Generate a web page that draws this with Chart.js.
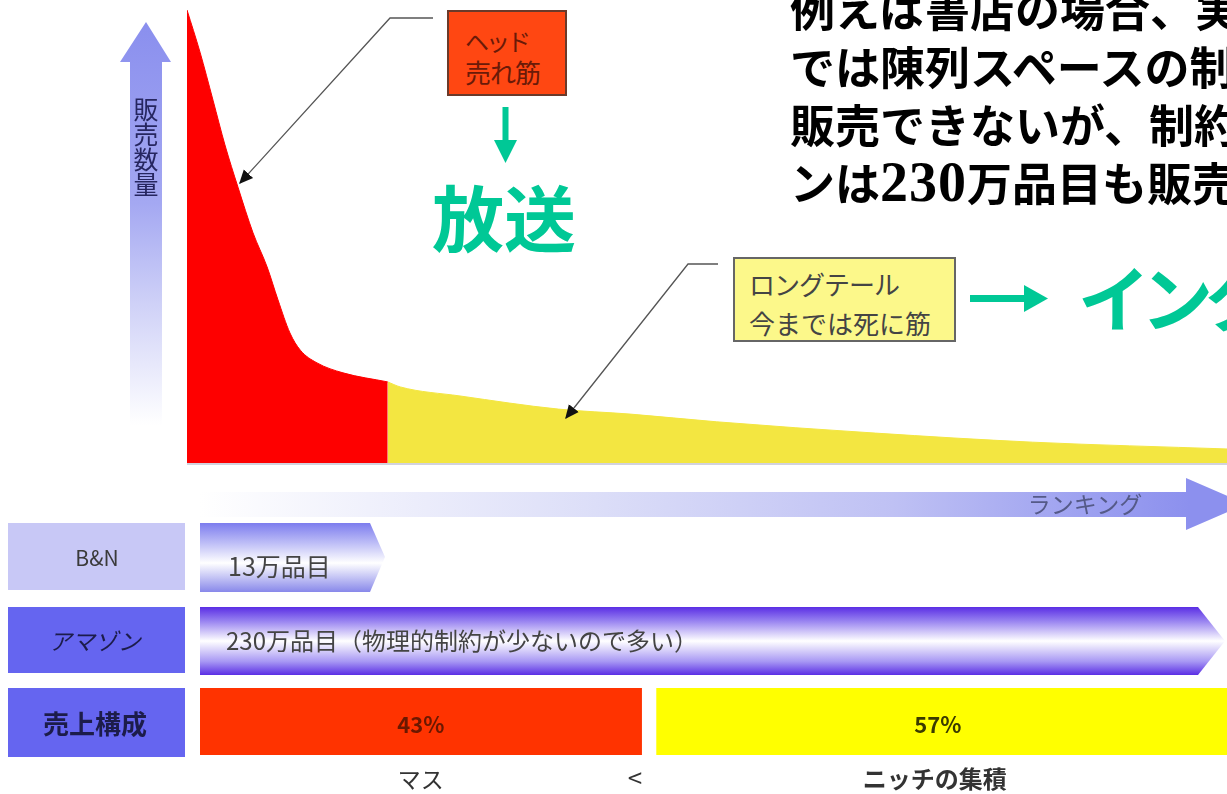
<!DOCTYPE html>
<html><head><meta charset="utf-8">
<script src="https://cdn.jsdelivr.net/npm/chart.js@4"></script>
<style>
html,body{margin:0;padding:0;background:#fff;}
body{width:1227px;height:794px;overflow:hidden;position:relative;font-family:"Noto Sans CJK JP","Noto Sans",sans-serif;}
#curve{position:absolute;left:0;top:0;z-index:1;}
#share{position:absolute;left:0;top:680px;z-index:1;}
svg{position:absolute;left:0;top:0;z-index:2;}
.t{position:absolute;z-index:3;white-space:nowrap;line-height:1;}
.c{transform:translate(-50%,-50%);}
.cy{transform:translateY(-50%);}
</style></head><body>
<canvas id="curve" width="1227" height="470"></canvas>
<canvas id="share" width="1227" height="90"></canvas>
<svg width="1227" height="794">
<defs>
<linearGradient id="gV" x1="0" y1="22" x2="0" y2="425" gradientUnits="userSpaceOnUse">
 <stop offset="0" stop-color="#8a8fee"/>
 <stop offset="0.45" stop-color="#a4a8f2"/>
 <stop offset="0.7" stop-color="#cfd1f7"/>
 <stop offset="1" stop-color="#ffffff"/>
</linearGradient>
<linearGradient id="gH" x1="200" y1="0" x2="1190" y2="0" gradientUnits="userSpaceOnUse">
 <stop offset="0" stop-color="#ffffff"/>
 <stop offset="0.4" stop-color="#dcdef8"/>
 <stop offset="0.7" stop-color="#bfc1f4"/>
 <stop offset="0.9" stop-color="#9ca0f0"/>
 <stop offset="1" stop-color="#8c90ee"/>
</linearGradient>
<linearGradient id="gBN" x1="0" y1="523" x2="0" y2="592" gradientUnits="userSpaceOnUse">
 <stop offset="0" stop-color="#7c7cee"/>
 <stop offset="0.58" stop-color="#ffffff"/>
 <stop offset="1" stop-color="#8888ea"/>
</linearGradient>
<linearGradient id="gAM" x1="0" y1="607" x2="0" y2="675" gradientUnits="userSpaceOnUse">
 <stop offset="0" stop-color="#5a2ee4"/>
 <stop offset="0.2" stop-color="#9680f0"/>
 <stop offset="0.5" stop-color="#ffffff"/>
 <stop offset="0.8" stop-color="#a898f4"/>
 <stop offset="1" stop-color="#5a2ee4"/>
</linearGradient>
<marker id="ah" viewBox="0 0 10 10" refX="9" refY="5" markerWidth="14" markerHeight="14" markerUnits="userSpaceOnUse" orient="auto"><path d="M0,0.5 L10,5 L0,9.5 z" fill="#111"/></marker>
</defs>
<line x1="187" y1="464" x2="1227" y2="464" stroke="#d2d2de" stroke-width="2"/>
<polygon points="146,22 120,62 130,62 130,425 162,425 162,62 171,62" fill="url(#gV)"/>
<polygon points="200,492 1186,492 1186,478 1246,504 1186,530 1186,517 200,517" fill="url(#gH)"/>
<rect x="8" y="523" width="177" height="67" fill="#c8c8f6"/>
<rect x="8" y="607" width="177" height="66" fill="#6565f0"/>
<rect x="8" y="688" width="177" height="69" fill="#6565f0"/>
<polygon points="200,523 370,523 385,557 370,592 200,592" fill="url(#gBN)"/>
<polygon points="200,607 1198,607 1225,641 1198,675 200,675" fill="url(#gAM)"/>
<polyline points="433,18 390,18 240,183" fill="none" stroke="#555" stroke-width="1.3" marker-end="url(#ah)"/>
<polyline points="718,264 688,264 566,418" fill="none" stroke="#555" stroke-width="1.3" marker-end="url(#ah)"/>
<rect x="502.5" y="107" width="6" height="35" fill="#00c896"/>
<polygon points="494,140 517,140 505.5,163" fill="#00c896"/>
<rect x="970" y="295" width="56" height="7" fill="#00c896"/>
<polygon points="1024,285 1048,298.5 1024,312" fill="#00c896"/>
</svg>

<div class="t" style="left:447px;top:10px;width:116px;height:82px;background:#ff4712;border:2px solid #6b3a2a;">
 <div class="t" style="left:16px;top:17px;font-size:24px;color:#6a1a08;letter-spacing:-3px;">ヘッド</div>
 <div class="t" style="left:16px;top:47px;font-size:26px;color:#6a1a08;letter-spacing:-1px;">売れ筋</div>
</div>
<div class="t" style="left:733px;top:257px;width:219px;height:81px;background:#fcf88a;border:2px solid #666;">
 <div class="t" style="left:14px;top:12px;font-size:26px;color:#444;letter-spacing:-1px;">ロングテール</div>
 <div class="t" style="left:14px;top:51px;font-size:26px;color:#444;letter-spacing:0px;">今までは死に筋</div>
</div>

<div class="t" style="left:432px;top:179px;font-size:72px;font-weight:700;color:#00c896;">放送</div>
<div class="t" style="left:1078px;top:259px;font-size:72px;font-weight:700;color:#00c896;letter-spacing:-9px;">インタ</div>

<div class="t" style="left:790px;top:-21px;font-size:45px;font-weight:700;line-height:58px;color:#000;">例えば書店の場合、実<br>では陳列スペースの制<br>販売できないが、制約<br>ンは<span style="font-family:'Liberation Serif',serif;font-size:56px;letter-spacing:1px;">230</span>万品目も販売</div>

<div class="t" style="left:133px;top:97px;font-size:25px;color:#262660;writing-mode:vertical-rl;">販売数量</div>
<div class="t c" style="left:1085px;top:503px;font-size:23px;color:#555a88;">ランキング</div>

<div class="t c" style="left:97px;top:557px;font-size:21px;color:#3a3a3a;">B&amp;N</div>
<div class="t c" style="left:97px;top:640px;font-size:23px;color:#1c1c4a;transform:translate(-50%,-50%) skewX(-14deg);">アマゾン</div>
<div class="t c" style="left:95px;top:723px;font-size:26px;font-weight:700;color:#1c1c4a;">売上構成</div>
<div class="t cy" style="left:228px;top:565px;font-size:25px;color:#444;">13万品目</div>
<div class="t cy" style="left:226px;top:640px;font-size:24px;color:#444;">230万品目（物理的制約が少ないので多い）</div>

<div id="lblA" class="t c" style="left:418px;top:723px;font-size:22px;font-weight:700;color:#6a1800;"></div>
<div id="lblB" class="t c" style="left:937px;top:723px;font-size:22px;font-weight:700;color:#3a3a00;"></div>
<div id="capA" class="t c" style="left:418px;top:778px;font-size:23px;color:#333;"></div>
<div class="t c" style="left:635px;top:777px;font-size:26px;color:#333;">&lt;</div>
<div id="capB" class="t c" style="left:934px;top:778px;font-size:24px;font-weight:700;color:#333;"></div>

<script>
// Long-tail curve (rank 0-100 on x, relative sales 0-100 on y)
const headRank  = [0, 1.25, 2.5, 3.65, 4.9, 6.35, 7.7, 8.75, 9.9, 10.9, 12.5, 15.0, 19.3];
const headSales = [100, 90.7, 80.1, 70.2, 60.9, 50.8, 43.3, 36.0, 28.7, 24.9, 22.1, 19.9, 17.9];
const tailRank  = [19.3, 20.5, 26.25, 35.7, 42.6, 50.9, 66.2, 81.3, 100];
const tailSales = [17.9, 16.8, 14.8, 11.9, 10.8, 9.1, 6.6, 4.6, 3.1];
// Sales composition
const shareCaptions = ['マス', 'ニッチの集積'];
const shareValues = [43, 57];
const shareCategory = ['売上構成'];

const pts = (xs, ys) => xs.map((x, i) => ({x: x, y: ys[i]}));

new Chart(document.getElementById('curve'), {
  type: 'line',
  data: { datasets: [
    { label: 'ヘッド', data: pts(headRank, headSales), fill: 'origin', backgroundColor: '#fe0000', borderColor: '#fe0000', borderWidth: 1, pointRadius: 0, cubicInterpolationMode: 'monotone' },
    { label: 'ロングテール', data: pts(tailRank, tailSales), fill: 'origin', backgroundColor: '#f3e641', borderColor: '#f3e641', borderWidth: 1, pointRadius: 0, cubicInterpolationMode: 'monotone' }
  ]},
  options: {
    responsive: false, animation: false, devicePixelRatio: 1,
    layout: { padding: { left: 187, right: 0, top: 10, bottom: 7 } },
    plugins: { legend: { display: false }, tooltip: { enabled: false } },
    scales: {
      x: { type: 'linear', min: 0, max: 100, display: false },
      y: { min: 0, max: 100, display: false }
    }
  }
});

const shareChart = new Chart(document.getElementById('share'), {
  type: 'bar',
  data: { labels: shareCategory, datasets: [
    { label: shareCaptions[0], data: [shareValues[0]], backgroundColor: '#ff3300', stack: 's', borderWidth: 0 },
    { label: shareCaptions[1], data: [shareValues[1]], backgroundColor: '#ffff00', stack: 's', borderColor: '#ffffff', borderWidth: { left: 15, right: 0, top: 0, bottom: 0 }, borderSkipped: false }
  ]},
  options: {
    indexAxis: 'y', responsive: false, animation: false, devicePixelRatio: 1,
    barPercentage: 1, categoryPercentage: 1,
    layout: { padding: { left: 200, right: 0, top: 8, bottom: 15 } },
    plugins: { legend: { display: false }, tooltip: { enabled: false } },
    scales: {
      x: { stacked: true, min: 0, max: 100, display: false },
      y: { stacked: true, display: false }
    }
  }
});

const sx = shareChart.scales.x;
const cA = sx.getPixelForValue(shareValues[0] / 2);
const cB = (sx.getPixelForValue(shareValues[0]) + 15 + sx.right) / 2;
const la = document.getElementById('lblA'), lb = document.getElementById('lblB');
la.textContent = shareValues[0] + '%'; la.style.left = cA + 'px';
lb.textContent = shareValues[1] + '%'; lb.style.left = (cB - 4) + 'px';
const ca = document.getElementById('capA'), cb = document.getElementById('capB');
ca.textContent = shareCaptions[0]; ca.style.left = cA + 'px';
cb.textContent = shareCaptions[1]; cb.style.left = (cB - 7) + 'px';
</script>
</body></html>
